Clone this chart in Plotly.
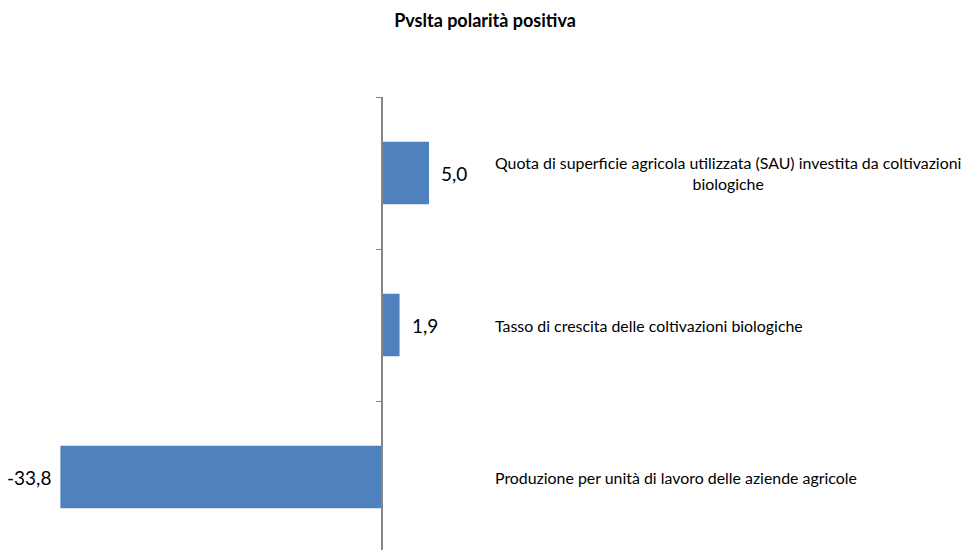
import plotly.graph_objects as go

categories = [
    "Produzione per unità di lavoro delle aziende agricole",
    "Tasso di crescita delle coltivazioni biologiche",
    "Quota di superficie agricola utilizzata (SAU) investita da coltivazioni<br>biologiche",
]
values = [-33.8, 1.9, 5.0]
title_text = "Pvslta polarità positiva"

W, H = 964, 550
zero_px = 381.5
px_per_unit = 9.5
x_range = [-zero_px / px_per_unit, (W - zero_px) / px_per_unit]

fig = go.Figure()
fig.add_trace(go.Bar(
    x=values, y=categories, orientation="h",
    marker=dict(color="#4F81BD", line=dict(width=0)),
    width=0.41,
    hoverinfo="skip",
))

annotations = []
for v, c in zip(values, categories):
    annotations.append(dict(
        x=v, y=c, xref="x", yref="y",
        text=f"{v:.1f}".replace(".", ","),
        showarrow=False,
        xanchor="left" if v >= 0 else "right",
        xshift=10 if v >= 0 else -7,
        font=dict(family="Lato", size=19, color="#000000"),
    ))
    annotations.append(dict(
        x=493 / W, y=c, xref="paper", yref="y",
        text=c, showarrow=False, xanchor="left", yanchor="middle",
        align="center",
        font=dict(family="Lato", size=15.9, color="#000000"),
    ))

fig.update_layout(
    width=W, height=H,
    margin=dict(l=0, r=0, t=97, b=0),
    paper_bgcolor="white", plot_bgcolor="white",
    showlegend=False,
    title=dict(text=f"<b>{title_text}</b>", x=485 / W, xanchor="center",
               y=1 - 21 / H, yanchor="middle",
               font=dict(family="Lato", size=18, color="#000000")),
    annotations=annotations,
    xaxis=dict(range=x_range, showgrid=False, showticklabels=False,
               zeroline=False, showline=False, ticks=""),
    yaxis=dict(range=[-0.48, 2.5], type="category", anchor="free",
               position=zero_px / W, showline=True, linecolor="#868686",
               linewidth=1.5, ticks="outside", ticklen=5, tickcolor="#868686",
               tickwidth=1, tickson="boundaries", showticklabels=False,
               showgrid=False, zeroline=False),
)

fig.write_html("out.html")
